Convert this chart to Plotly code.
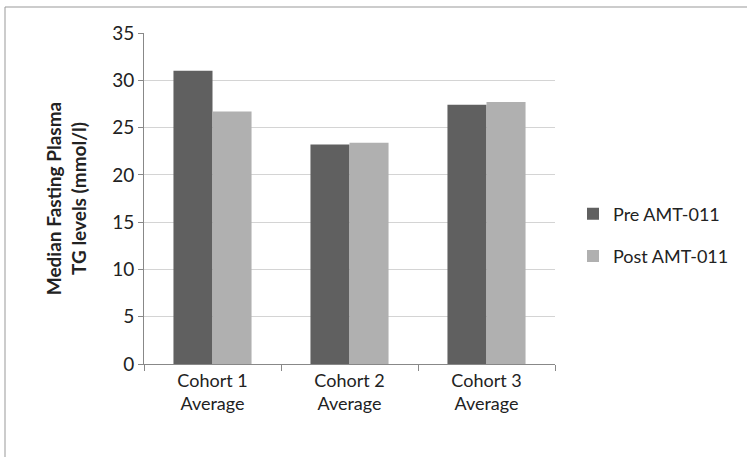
import plotly.graph_objects as go

categories = ["Cohort 1<br>Average", "Cohort 2<br>Average", "Cohort 3<br>Average"]
pre_values = [31.0, 23.2, 27.4]
post_values = [26.7, 23.4, 27.7]
series_names = ["Pre AMT-011", "Post AMT-011"]
y_ticks = [0, 5, 10, 15, 20, 25, 30, 35]

W, H = 747, 457
L, R, T, B = 144, 555, 33, 364
pw, ph = R - L, B - T

font = "Lato, 'Open Sans', sans-serif"

fig = go.Figure()
fig.add_trace(go.Bar(x=categories, y=pre_values, name=series_names[0],
                     marker=dict(color="#606060", line=dict(width=0)), legendgroup="a"))
fig.add_trace(go.Bar(x=categories, y=post_values, name=series_names[1],
                     marker=dict(color="#b0b0b0", line=dict(width=0)), legendgroup="b"))

fig.update_layout(
    width=W, height=H,
    margin=dict(l=L, r=W - R, t=T, b=H - B, autoexpand=False),
    paper_bgcolor="white", plot_bgcolor="white",
    barmode="group", bargap=0.43, bargroupgap=0,
    font=dict(family=font, size=18, color="#222"),
    showlegend=True,
    legend=dict(x=(573 - L) / pw, y=(B - 235) / ph, xanchor="left", yanchor="middle",
                font=dict(size=18, color="#222"), tracegroupgap=16,
                itemwidth=30, bgcolor="rgba(0,0,0,0)"),
    xaxis=dict(showline=True, linecolor="#888", linewidth=1, ticks="outside",
               tickson="boundaries", ticklen=6, tickcolor="#888",
               tickfont=dict(size=18, color="#222"), showgrid=False),
    yaxis=dict(range=[0, 35], tickvals=y_ticks, showline=True, linecolor="#888",
               linewidth=1, ticks="outside", ticklen=5, tickcolor="#888",
               showgrid=True, gridcolor="#d4d4d4", gridwidth=1, zeroline=False,
               tickfont=dict(size=19, color="#222"),
               title=dict(text="<b>Median Fasting Plasma<br>TG levels (mmol/l)</b>",
                          font=dict(size=19, color="#222"), standoff=20)),
    shapes=[dict(type="rect", xref="paper", yref="paper",
                 x0=(5 - L) / pw, x1=(760 - L) / pw,
                 y0=(B - 470) / ph, y1=1 + (T - 7) / ph,
                 line=dict(color="#999", width=1), layer="below")],
)

fig.write_html("out.html", config={"displayModeBar": False},
               post_script="document.body.style.margin='0px';")
